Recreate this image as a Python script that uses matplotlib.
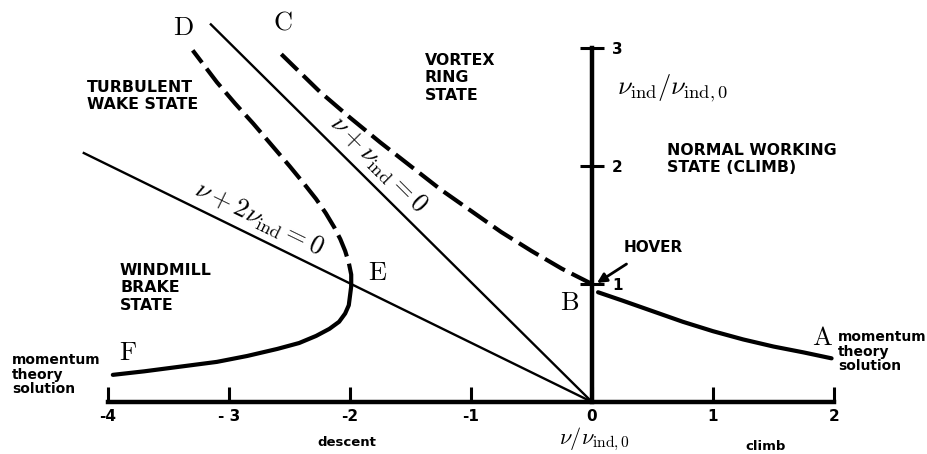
import matplotlib
matplotlib.use("Agg")
import matplotlib.pyplot as plt

plt.rcParams['mathtext.fontset'] = 'cm'
plt.rcParams['font.family'] = ['DejaVu Sans']

# (nu / nu_ind,0 , nu_ind / nu_ind,0)
climb_v = [0.05, 0.25, 0.5, 0.75, 1.0, 1.25, 1.5, 1.75, 1.98]
climb_vind = [0.93, 0.86, 0.77, 0.68, 0.60, 0.53, 0.47, 0.42, 0.37]

windmill_v = [-3.96, -3.7, -3.4, -3.1, -2.85, -2.6, -2.42, -2.28, -2.17, -2.09, -2.04, -2.01, -2.0, -1.99]
windmill_vind = [0.23, 0.26, 0.30, 0.34, 0.39, 0.45, 0.50, 0.56, 0.62, 0.68, 0.75, 0.82, 0.90, 0.98]

turbulent_v = [-1.99, -1.99, -2.01, -2.04, -2.08, -2.13, -2.2, -2.28, -2.38, -2.5, -2.65, -2.8, -2.95, -3.1, -3.3]
turbulent_vind = [0.98, 1.08, 1.18, 1.28, 1.38, 1.48, 1.6, 1.72, 1.85, 2.0, 2.18, 2.36, 2.53, 2.71, 2.98]

vortex_v = [0.0, -0.25, -0.5, -0.75, -1.0, -1.25, -1.5, -1.75, -2.0, -2.25, -2.6]
vortex_vind = [1.0, 1.13, 1.28, 1.44, 1.62, 1.8, 2.0, 2.2, 2.41, 2.63, 2.98]

line1_v = [0.0, -3.15]      # nu + nu_ind = 0
line1_vind = [0.0, 3.2]
line2_v = [0.0, -4.2]       # nu + 2 nu_ind = 0
line2_vind = [0.0, 2.11]

xticks = [-4, -3, -2, -1, 0, 1, 2]
xticklabels = ['-4', '- 3', '-2', '-1', '0', '1', '2']
yticks = [1, 2, 3]
yticklabels = ['1', '2', '3']

W, H = 928, 454
fig = plt.figure(figsize=(W / 100, H / 100), dpi=100)
ax = fig.add_axes([0, 0, 1, 1])
ax.set_xlim(-592 / 121, 336 / 121)
ax.set_ylim(-52 / 118, 402 / 118)


def px(x, y):
    # figure pixel (from top-left) -> figure fraction
    return x / W, 1 - y / H


thick = 3.0
dash = (5.5, 1.8)

ax.plot(climb_v, climb_vind, color='black', lw=thick, solid_capstyle='round', solid_joinstyle='round')
ax.plot(windmill_v, windmill_vind, color='black', lw=thick, solid_capstyle='round', solid_joinstyle='round')
ax.plot(turbulent_v, turbulent_vind, color='black', lw=thick, ls=(0, dash))
ax.plot(vortex_v, vortex_vind, color='black', lw=thick, ls=(0, dash))
ax.plot(line1_v, line1_vind, color='black', lw=1.7)
ax.plot(line2_v, line2_vind, color='black', lw=1.7)

# axes
for s in ['top', 'left']:
    ax.spines[s].set_visible(False)
ax.spines['bottom'].set_position(('data', 0))
ax.spines['bottom'].set_bounds(-4, 2)
ax.spines['bottom'].set_linewidth(3.2)
ax.spines['right'].set_position(('data', 0))
ax.spines['right'].set_bounds(0, 3)
ax.spines['right'].set_linewidth(3.2)

ax.set_xticks(xticks)
ax.set_xticklabels(xticklabels, fontweight='bold', fontsize=11)
ax.tick_params(axis='x', direction='in', length=11, width=2.2, pad=5)
ax.yaxis.tick_right()
ax.set_yticks(yticks)
ax.set_yticklabels(yticklabels, fontweight='bold', fontsize=11)
ax.tick_params(axis='y', direction='inout', length=17, width=2.2, pad=6)

# axis names
fig.text(*px(594, 444), r'$\nu/\nu_{\mathrm{ind},0}$', fontsize=16, ha='center', va='baseline')
fig.text(*px(673, 88), r'$\nu_{\mathrm{ind}}/\nu_{\mathrm{ind},0}$', fontsize=19, ha='center', va='center')
fig.text(*px(347, 443), 'descent', fontsize=9.5, fontweight='bold', ha='center', va='center')
fig.text(*px(766, 446), 'climb', fontsize=9.5, fontweight='bold', ha='center', va='center')

# line labels
fig.text(*px(378, 165), r'$\nu+\nu_{\mathrm{ind}}=0$', fontsize=19, rotation=-45,
         rotation_mode='anchor', ha='center', va='center')
fig.text(*px(259, 219), r'$\nu+2\nu_{\mathrm{ind}}=0$', fontsize=19, rotation=-26,
         rotation_mode='anchor', ha='center', va='center')

# point letters
for letter, (x, y) in zip('ABCDEF', [(822, 338), (570, 303), (283, 23), (183, 28),
                                     (378, 273), (128, 353)]):
    fig.text(*px(x, y), r'$\mathrm{%s}$' % letter, fontsize=19, ha='center', va='center')

# region labels
region_style = dict(fontsize=11.3, fontweight='bold', ha='left', va='top', linespacing=1.2)
fig.text(*px(87, 80), 'TURBULENT\nWAKE STATE', **region_style)
fig.text(*px(425, 53), 'VORTEX\nRING\nSTATE', **region_style)
fig.text(*px(120, 263), 'WINDMILL\nBRAKE\nSTATE', **region_style)
fig.text(*px(667, 143), 'NORMAL WORKING\nSTATE (CLIMB)', **region_style)

small_style = dict(fontsize=10, fontweight='bold', ha='left', va='top', linespacing=1.05)
fig.text(*px(12, 353), 'momentum\ntheory\nsolution', **small_style)
fig.text(*px(838, 330), 'momentum\ntheory\nsolution', **small_style)

# hover arrow
ax.annotate('HOVER', xy=px(597, 283), xycoords='figure fraction',
            xytext=px(653, 247), textcoords='figure fraction',
            fontsize=11, fontweight='bold', ha='center', va='center',
            arrowprops=dict(arrowstyle='-|>', color='black', lw=2, mutation_scale=14,
                            shrinkA=9, shrinkB=0))

fig.savefig('out.png', dpi=100)
